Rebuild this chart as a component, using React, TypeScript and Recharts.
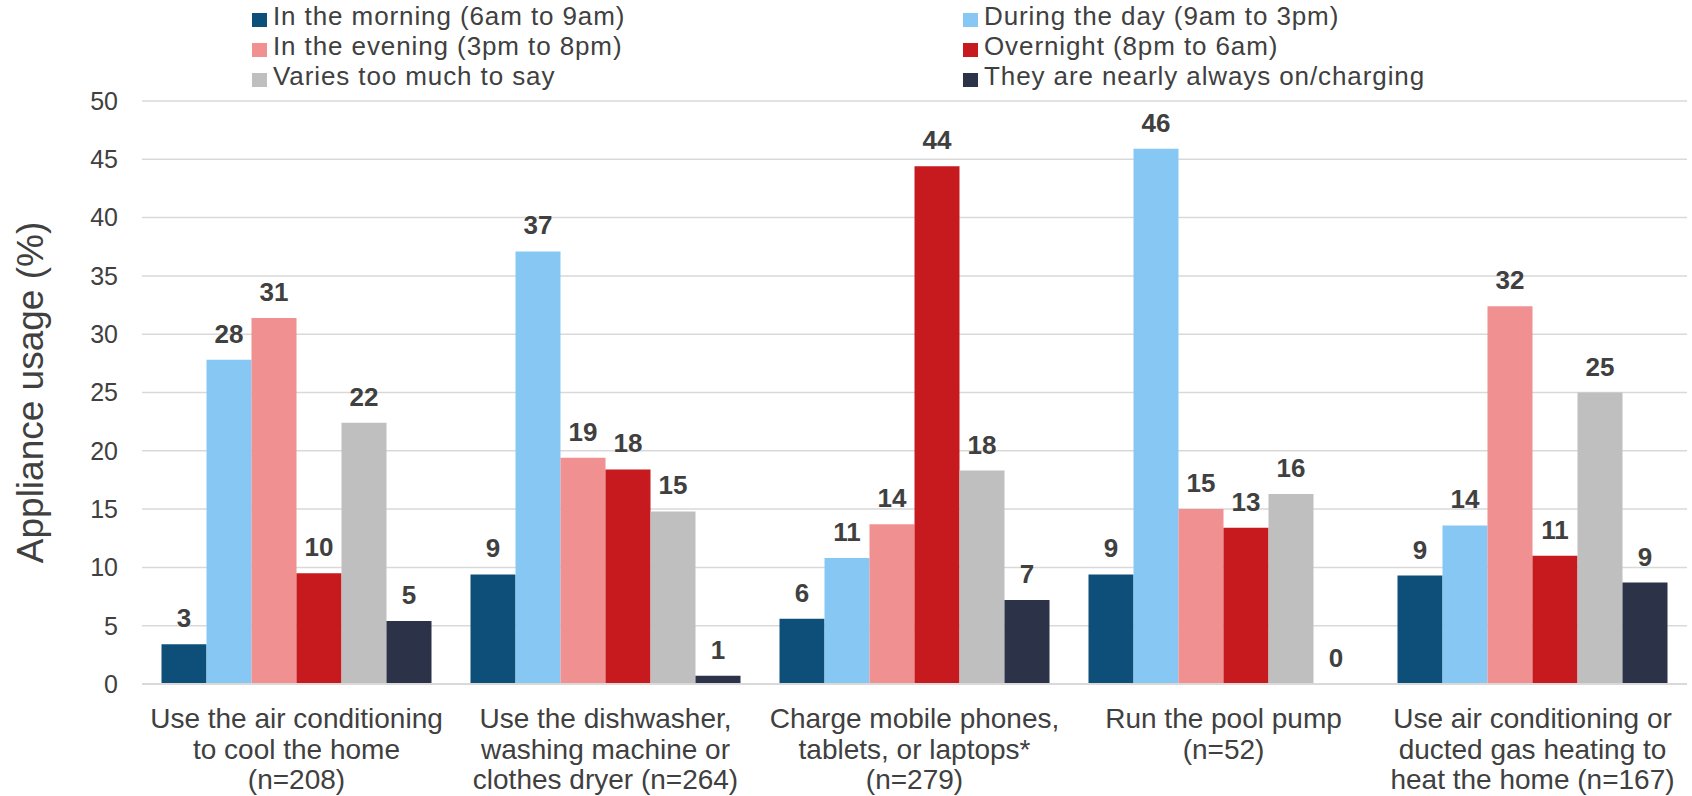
import React from 'react';
import { BarChart, Bar, XAxis, YAxis, CartesianGrid, LabelList } from 'recharts';

// 카테고리 (여러 줄 라벨)
const categories = [
  'Use the air conditioning|to cool the home|(n=208)',
  'Use the dishwasher,|washing machine or|clothes dryer (n=264)',
  'Charge mobile phones,|tablets, or laptops*|(n=279)',
  'Run the pool pump|(n=52)',
  'Use air conditioning or|ducted gas heating to|heat the home (n=167)',
];

const seriesNames = [
  'In the morning (6am to 9am)',
  'During the day (9am to 3pm)',
  'In the evening (3pm to 8pm)',
  'Overnight (8pm to 6am)',
  'Varies too much to say',
  'They are nearly always on/charging',
];

const seriesColors = ['#0E4F79', '#86C8F3', '#F09090', '#C71A1E', '#BFBFBF', '#2C3248'];

// 시리즈별 값 (%)
const morning = [3.4, 9.4, 5.6, 9.4, 9.3];
const daytime = [27.8, 37.1, 10.8, 45.9, 13.6];
const evening = [31.4, 19.4, 13.7, 15.0, 32.4];
const overnight = [9.5, 18.4, 44.4, 13.4, 11.0];
const varies = [22.4, 14.8, 18.3, 16.3, 25.0];
const alwaysOn = [5.4, 0.7, 7.2, 0, 8.7];

const yTicks = [0, 5, 10, 15, 20, 25, 30, 35, 40, 45, 50];

const seriesValues = [morning, daytime, evening, overnight, varies, alwaysOn];
const keys = ['s0', 's1', 's2', 's3', 's4', 's5'];

const data = categories.map((c, i) => {
  const row: any = { name: c };
  keys.forEach((k, j) => {
    row[k] = seriesValues[j][i];
  });
  return row;
});

const FONT = 'Liberation Sans, Arial, sans-serif';

const CategoryTick = (props: any) => {
  const { x, y, payload } = props;
  const lines = String(payload.value).split('|');
  return (
    <g transform={`translate(${x},${y})`}>
      {lines.map((l, i) => (
        <text key={i} x={0} y={36 + i * 30.5} textAnchor="middle" fill="#404040" fontSize={28} fontFamily={FONT}>
          {l}
        </text>
      ))}
    </g>
  );
};

// 막대 위 값 라벨 (0 값도 표시)
const ValueLabel = (props: any) => {
  const { x, y, width, height, value } = props;
  if (value === undefined || value === null) return null;
  // 높이가 음수일 수 있으므로 위쪽 끝을 계산
  const top = Math.min(Number(y), Number(y) + Number(height || 0));
  return (
    <text
      x={Number(x) + Number(width) / 2}
      y={top - 17}
      textAnchor="middle"
      fill="#404040"
      fontSize={26}
      fontWeight="bold"
      fontFamily={FONT}
    >
      {Math.round(Number(value))}
    </text>
  );
};

// 범례는 차트 위에 직접 배치
const ChartLegend = () => {
  const cols = [252, 963];
  return (
    <div style={{ position: 'absolute', left: 0, top: 0, width: 1692, height: 95 }}>
      {seriesNames.map((n, i) => {
        const col = i % 2;
        const row = Math.floor(i / 2);
        return (
          <div
            key={n}
            style={{
              position: 'absolute',
              left: cols[col],
              top: 2 + row * 30,
              display: 'flex',
              alignItems: 'flex-start',
              fontSize: 26,
              letterSpacing: 0.9,
              color: '#404040',
              fontFamily: FONT,
              whiteSpace: 'nowrap',
              lineHeight: '29px',
            }}
          >
            <span
              style={{ display: 'inline-block', width: 15, height: 14, marginTop: 11, background: seriesColors[i], marginRight: 6 }}
            />
            {n}
          </div>
        );
      })}
    </div>
  );
};

export default function App() {
  return (
    <div style={{ position: 'absolute', left: 0, top: 0, width: 1692, height: 796, background: '#fff' }}>
      <BarChart
        width={1692}
        height={796}
        data={data}
        margin={{ top: 101, right: 5, left: 0, bottom: 0 }}
        barCategoryGap={19.5}
        barGap={0}
      >
        <CartesianGrid vertical={false} stroke="#D9D9D9" strokeWidth={1.5} />
        <XAxis
          dataKey="name"
          interval={0}
          tickLine={false}
          axisLine={{ stroke: '#D9D9D9', strokeWidth: 2 }}
          tick={<CategoryTick />}
          height={112}
        />
        <YAxis
          width={142}
          domain={[0, 50]}
          ticks={yTicks}
          interval={0}
          axisLine={false}
          tickLine={false}
          tickMargin={18}
          tick={{ fontSize: 25, fill: '#404040', fontFamily: FONT }}
          label={{
            value: 'Appliance usage (%)',
            angle: -90,
            position: 'insideLeft',
            offset: 30,
            style: { fontSize: 37, fill: '#404040', fontFamily: FONT, textAnchor: 'middle' },
          }}
        />
        {keys.map((k, j) => (
          <Bar
            key={k}
            dataKey={k}
            name={seriesNames[j]}
            fill={seriesColors[j]}
            minPointSize={0.01}
            isAnimationActive={false}
          >
            <LabelList dataKey={k} content={<ValueLabel />} />
          </Bar>
        ))}
      </BarChart>
      <ChartLegend />
    </div>
  );
}
